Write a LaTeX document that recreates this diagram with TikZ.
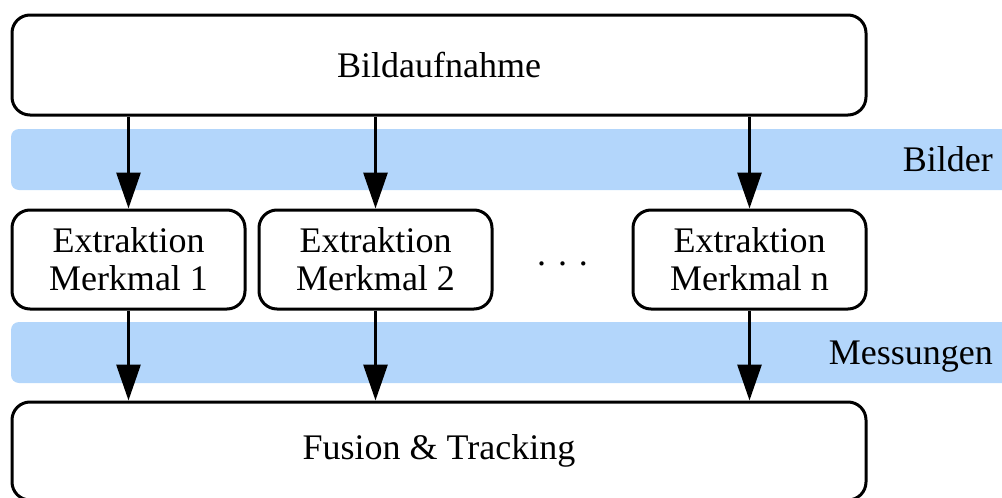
\documentclass[tikz,border=0pt]{standalone}
\usepackage{fontspec}
\setmainfont{Liberation Serif}
\usetikzlibrary{arrows.meta}
\definecolor{bandblue}{RGB}{179,214,251}
\tikzset{
  boxnode/.style={draw=black, line width=3pt, rounded corners=18pt, rectangle,
    inner sep=0pt, align=center, font=\fontsize{36}{38}\selectfont},
  bigbox/.style={boxnode, minimum width=854pt},
  featbox/.style={boxnode, minimum width=233pt, minimum height=99pt},
  band/.style={fill=bandblue, rounded corners=8pt},
  bandlabel/.style={anchor=base east, inner sep=0pt, font=\fontsize{36}{38}\selectfont},
  arr/.style={line width=3pt, -{Triangle[width=24pt,length=36pt]}}
}
\begin{document}
\begin{tikzpicture}[x=1pt,y=-1pt]
\useasboundingbox (0,0) rectangle (1002,498);
\clip (0,0) rectangle (1002,498);
% bands
\fill[band] (11,129) rectangle (1030,190);
\fill[band] (11,322) rectangle (1030,383);
\node[bandlabel] (lbilder) at (993,171) {Bilder};
\node[bandlabel] (lmess) at (993,364) {Messungen};
% boxes
\node[bigbox, minimum height=100pt] (bild) at (439,65) {Bildaufnahme};
\node[featbox] (f1) at (128.5,259.5) {Extraktion\\Merkmal 1};
\node[featbox] (f2) at (375.5,259.5) {Extraktion\\Merkmal 2};
\node[featbox] (fn) at (749.5,259.5) {Extraktion\\Merkmal n};
\node[anchor=base, inner sep=0pt, font=\fontsize{36}{38}\selectfont] (dots) at (562.5,265) {.\hspace{0.33em}.\hspace{0.33em}.};
\node[bigbox, minimum height=98pt] (fus) at (439,451) {Fusion \& Tracking};
% arrows
\foreach \f in {f1,f2,fn}{
  \draw[arr] (\f.north |- bild.south) -- (\f.north);
  \draw[arr] (\f.south) -- (\f.south |- fus.north);
}
\end{tikzpicture}
\end{document}
